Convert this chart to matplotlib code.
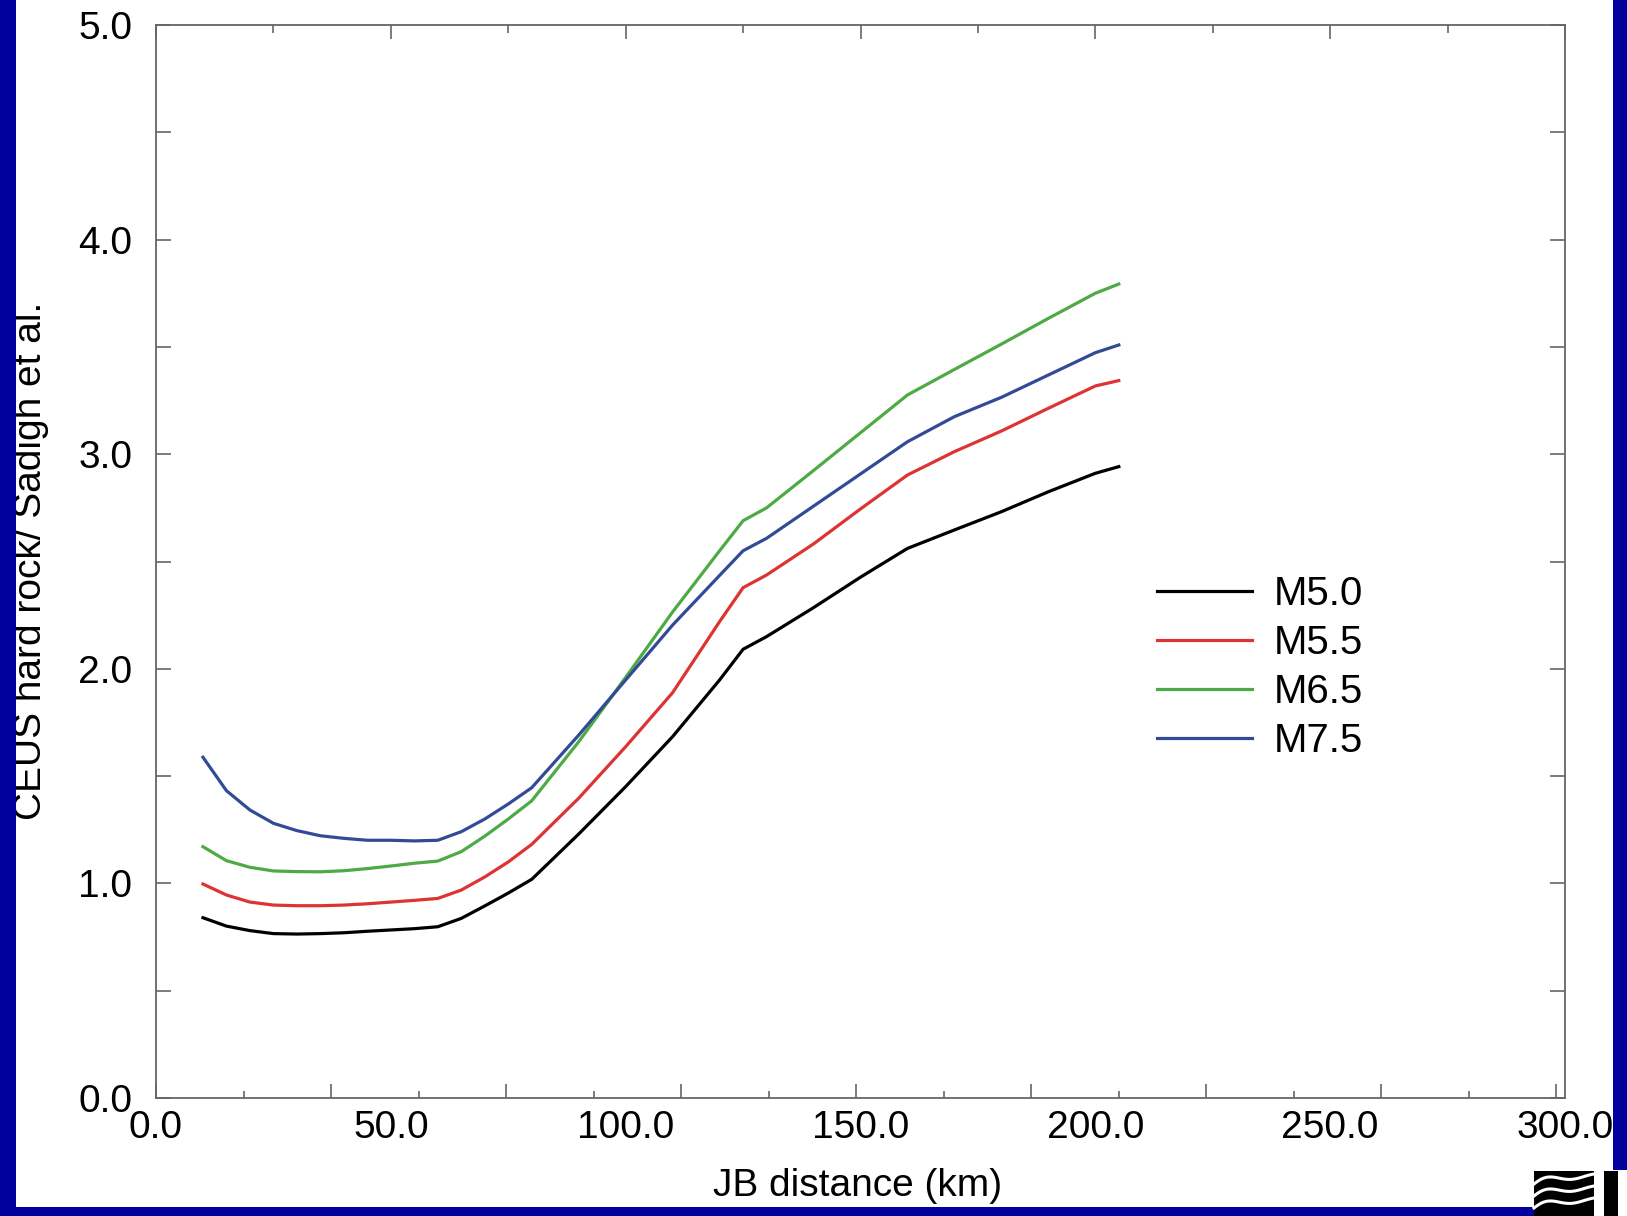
import matplotlib
matplotlib.use("Agg")
import matplotlib.pyplot as plt
import numpy as np
from matplotlib.patches import Rectangle

plt.rcParams["font.family"] = ["Liberation Sans", "DejaVu Sans"]

# Joyner-Boore distance (km) and the CEUS hard-rock / Sadigh et al. ratio per magnitude
distance_km = [10, 15, 20, 25, 30, 35, 40, 45, 50, 55, 60, 65, 70, 75, 80,
               90, 100, 110, 120, 125, 130, 140, 150, 160, 170, 180, 190, 200, 205]

ratio_m50 = [0.840, 0.801, 0.780, 0.766, 0.764, 0.766, 0.770, 0.777, 0.783, 0.789, 0.798,
             0.837, 0.895, 0.955, 1.019, 1.230, 1.451, 1.684, 1.948, 2.091, 2.150, 2.285,
             2.427, 2.561, 2.647, 2.732, 2.825, 2.911, 2.942]
ratio_m55 = [0.997, 0.946, 0.913, 0.899, 0.896, 0.896, 0.899, 0.905, 0.913, 0.921, 0.930,
             0.969, 1.030, 1.100, 1.182, 1.397, 1.637, 1.889, 2.220, 2.378, 2.437, 2.582,
             2.745, 2.903, 3.012, 3.108, 3.214, 3.318, 3.343]
ratio_m65 = [1.171, 1.106, 1.075, 1.058, 1.055, 1.054, 1.059, 1.069, 1.081, 1.094, 1.104,
             1.148, 1.220, 1.300, 1.385, 1.660, 1.960, 2.265, 2.550, 2.690, 2.750, 2.924,
             3.100, 3.276, 3.395, 3.513, 3.633, 3.750, 3.793]
ratio_m75 = [1.588, 1.432, 1.342, 1.280, 1.246, 1.222, 1.210, 1.201, 1.201, 1.198, 1.201,
             1.241, 1.300, 1.370, 1.446, 1.691, 1.948, 2.204, 2.435, 2.550, 2.608, 2.758,
             2.908, 3.058, 3.175, 3.265, 3.369, 3.473, 3.509]

series_labels = ["M5.0", "M5.5", "M6.5", "M7.5"]
series_colors = ["#000000", "#dd3333", "#4daa44", "#334a96"]

x_tick_values = [0, 50, 100, 150, 200, 250, 300]
y_tick_values = [0, 1, 2, 3, 4, 5]

W, H = 1627, 1216
fig = plt.figure(figsize=(W / 100, H / 100), dpi=100)
fig.patch.set_facecolor("white")

ax = fig.add_axes([156 / W, 1 - 1098 / H, (1565 - 156) / W, (1098 - 25) / H])
ax.set_xlim(0, 300)
ax.set_ylim(0, 5)

for ys, label, color in zip([ratio_m50, ratio_m55, ratio_m65, ratio_m75], series_labels, series_colors):
    ax.plot(distance_km, ys, color=color, lw=2.3, label=label, solid_joinstyle="miter")

spine_color = "#666666"
for sp in ax.spines.values():
    sp.set_color(spine_color)
    sp.set_linewidth(1.3)

# labelled ticks
ax.set_xticks(x_tick_values)
ax.set_xticklabels([f"{v:.1f}" for v in x_tick_values])
ax.set_xticks(np.arange(25, 300, 50), minor=True)
ax.set_yticks(y_tick_values)
ax.set_yticklabels([f"{v:.1f}" for v in y_tick_values])
ax.set_yticks(np.arange(0.5, 5, 1.0), minor=True)

ax.tick_params(axis="x", which="major", direction="in", bottom=False, top=True,
               length=10, width=1.2, color=spine_color, labelsize=28, pad=9)
ax.tick_params(axis="x", which="minor", direction="in", bottom=False, top=True,
               length=6, width=1.2, color=spine_color)
ax.tick_params(axis="y", which="both", direction="in", left=True, right=True,
               length=11, width=1.2, color=spine_color, labelsize=28, pad=17)

# bottom axis marks run on their own spacing
step = 300 * 87.5 / 1409
sec = ax.secondary_xaxis("bottom")
sec.set_xticks(np.arange(0, 300, 2 * step))
sec.set_xticks(np.arange(step, 300, 2 * step), minor=True)
sec.set_xticklabels([])
sec.tick_params(which="major", direction="in", length=10, width=1.2, color=spine_color)
sec.tick_params(which="minor", direction="in", length=5, width=1.2, color=spine_color)
sec.spines["bottom"].set_visible(False)

fig.text(31 / W, 1 - 561 / H, "CEUS hard rock/ Sadigh et al.", rotation=90,
         ha="center", va="center", fontsize=28)
fig.text(858 / W, 1 - 1186 / H, "JB distance (km)", ha="center", va="center", fontsize=28)

ax.legend(loc="upper left", bbox_to_anchor=(1157 / W, 1 - 575 / H),
          bbox_transform=fig.transFigure, frameon=False, fontsize=29,
          handlelength=2.35, handletextpad=0.55, labelspacing=0.27,
          borderpad=0, borderaxespad=0)

# slide frame
border = "#00009c"
fig.patches.append(Rectangle((0, 0), 16 / W, 1, transform=fig.transFigure,
                             facecolor=border, edgecolor="none", zorder=10))
fig.patches.append(Rectangle((1613 / W, 46 / H), 14 / W, 1 - 46 / H, transform=fig.transFigure,
                             facecolor=border, edgecolor="none", zorder=10))
fig.patches.append(Rectangle((0, 0), 1534 / W, 9 / H, transform=fig.transFigure,
                             facecolor=border, edgecolor="none", zorder=10))

# corner logo
fig.patches.append(Rectangle((1534 / W, 0), 60 / W, 45 / H, transform=fig.transFigure,
                             facecolor="black", edgecolor="none", zorder=10))
fig.patches.append(Rectangle((1604 / W, 0), 14 / W, 45 / H, transform=fig.transFigure,
                             facecolor="black", edgecolor="none", zorder=10))
t = np.linspace(0, 1, 60)
for k in range(3):
    lx = 1534 + 60 * t
    ly = 8 + 12 * k + 6 * np.sin(np.pi * 2 * t) * (1 - t) + 10 * t
    fig.add_artist(plt.Line2D(lx / W, 1 - (1216 - ly) / H, color="white", lw=2.2,
                              transform=fig.transFigure, zorder=11))

fig.savefig("out.png", dpi=100, facecolor="white")
